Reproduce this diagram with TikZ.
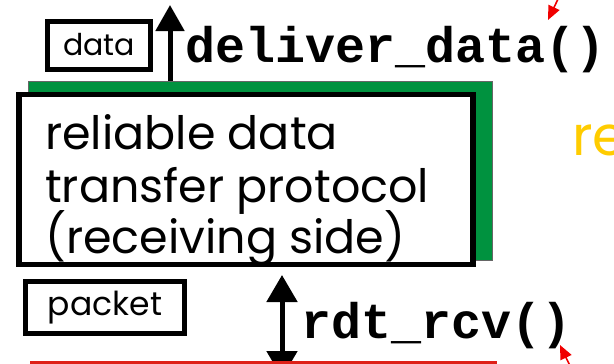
\documentclass[tikz,border=0pt]{standalone}
\usepackage{fontspec}
\setmainfont{Poppins}
\newfontfamily\codefont{Liberation Mono}
\usetikzlibrary{arrows.meta}
\definecolor{shadowgreen}{RGB}{0,146,63}
\definecolor{gold}{RGB}{255,204,0}
\definecolor{pointred}{RGB}{240,0,0}
\definecolor{linkred}{RGB}{222,32,24}
\begin{document}
\begin{tikzpicture}[x=1pt,y=-1pt,
  framebox/.style={draw, line width=5pt, inner sep=0pt, fill=white},
  call/.style={font=\fontsize{50}{50}\codefont\bfseries, anchor=base west, inner sep=0pt},
  body/.style={font=\fontsize{46}{52}\selectfont, anchor=base west, inner sep=0pt},
  side/.style={font=\fontsize{55}{55}\selectfont, text=gold, anchor=base west, inner sep=0pt},
  bigarrow/.style={line width=5pt, -{Triangle[width=28pt,length=26pt]}},
  pointer/.style={pointred, line width=1.6pt, -{Triangle[width=12pt,length=14pt]}}]
\useasboundingbox (0,0) rectangle (614,364);

% protocol block with its green shadow
\node[fill=shadowgreen, draw=black!60, line width=0.5pt, minimum width=464pt, minimum height=179pt, inner sep=0pt]
  (shadow) at (260,170.5) {};
\node[framebox, minimum width=454pt, minimum height=170pt, line width=5.5pt] (proto) at (246,179.5) {};
\node[body] (l1) at (45,149) {reliable data};
\node[body] (l2) at (45,202) {transfer protocol};
\node[body] (l3) at (45,253) {(receiving side)};

% upper interface
\node[framebox, minimum width=103pt, minimum height=48pt, font=\fontsize{30}{30}\selectfont] (data) at (99,45) {data};
\coordinate (uptip) at (170,5);
\draw[bigarrow] (shadow.north -| uptip) -- (uptip);
\node[call] (deliver) at (185,62) {deliver\_data()};

% lower interface
\node[framebox, minimum width=159pt, minimum height=52pt, font=\fontsize{33}{33}\selectfont] (packet) at (105,307.5) {packet};
\coordinate (rtop) at (282,275);
\coordinate (rbot) at (282,378);
\draw[line width=5pt, {Triangle[width=30pt,length=27pt]}-{Triangle[width=30pt,length=27pt]}] (rtop) -- (rbot);
\node[call] (rcv) at (301,338) {rdt\_rcv()};

% channel below
\coordinate (chl) at (30,362.5);
\coordinate (chr) at (497,362.5);
\draw[linkred, line width=3pt] (chl) -- (chr);

% side labels
\node[side] (re) at (572,155) {re};
\node[side] (s) at (612,232) {s};

% pointer arrows
\coordinate (p1s) at (559,-3);
\coordinate (p1e) at (548,20);
\draw[pointer] (p1s) -- (p1e);
\coordinate (p2s) at (572,370);
\coordinate (p2e) at (560,345);
\draw[pointer] (p2s) -- (p2e);
\end{tikzpicture}
\end{document}
